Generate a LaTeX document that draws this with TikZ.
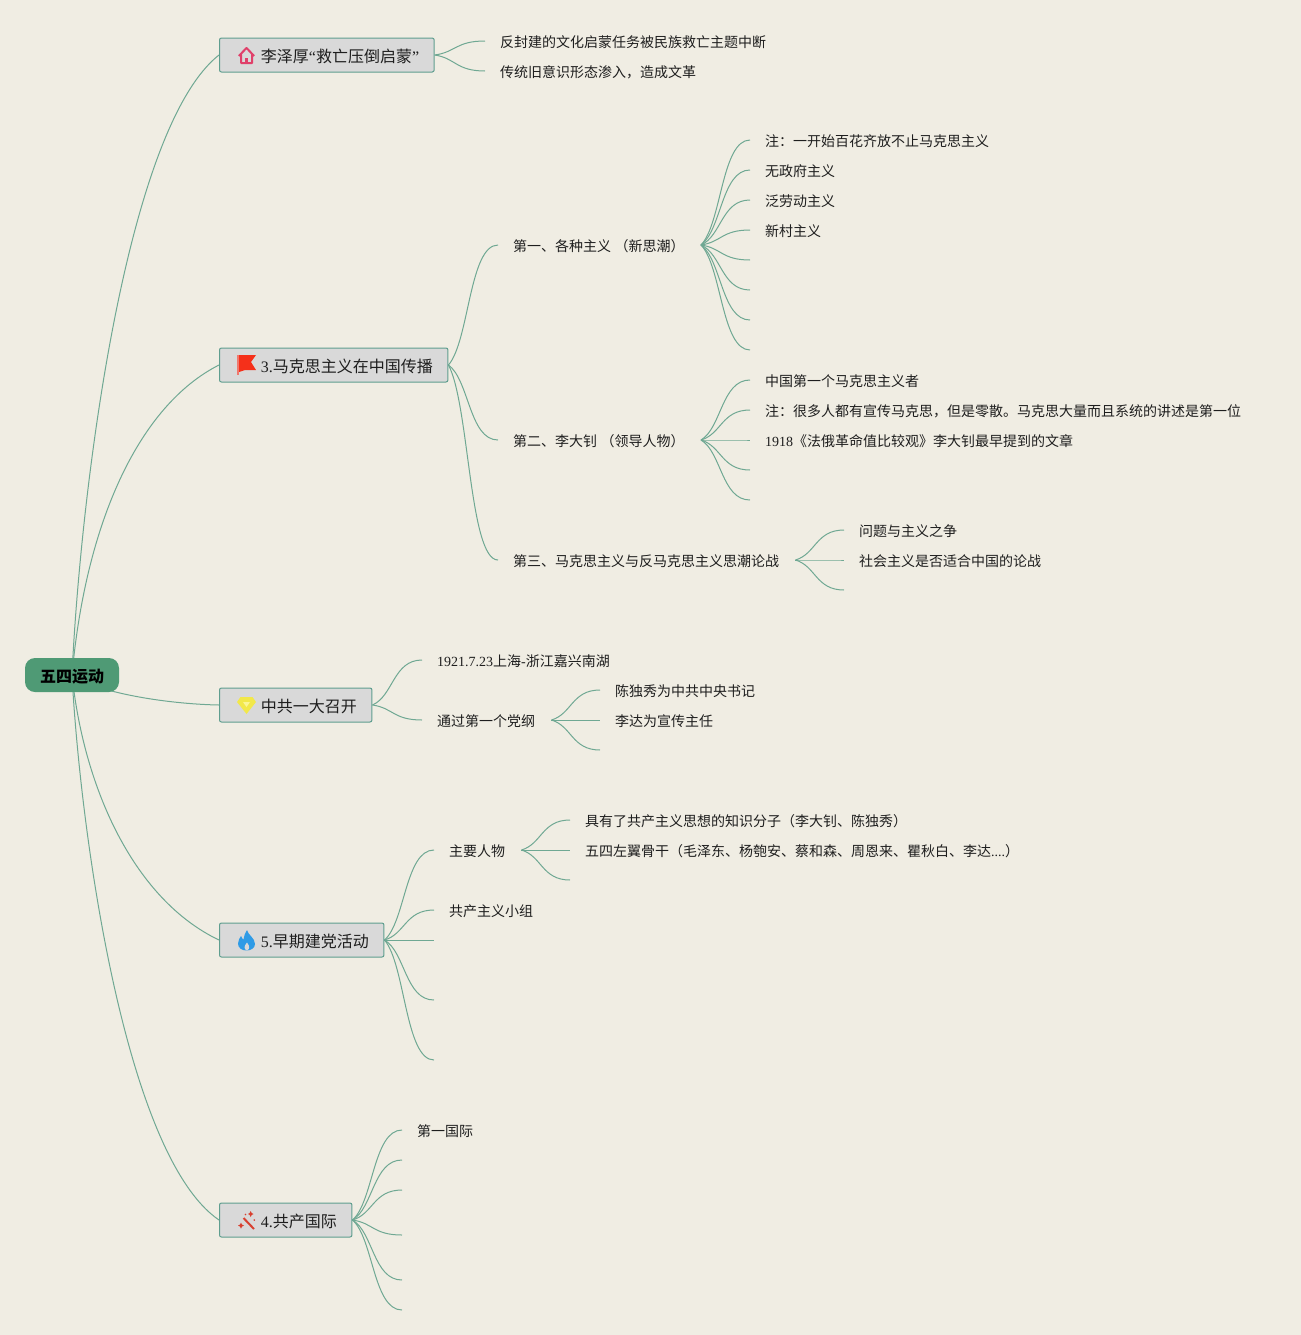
\documentclass[tikz,border=0pt]{standalone}
\usepackage{fontspec}
\setmainfont{Noto Sans CJK SC}
\newfontfamily\latnfont{Liberation Serif}
\newcommand\latn[1]{{\latnfont #1}}
\usetikzlibrary{calc}
\pgfdeclarelayer{bg}
\pgfdeclarelayer{edges}
\pgfsetlayers{bg,edges,main}
\definecolor{paper}{HTML}{F0EDE3}
\definecolor{linecol}{HTML}{6FA893}
\definecolor{rootfill}{HTML}{4F9A75}
\definecolor{boxfill}{HTML}{D9D9D9}
\definecolor{boxline}{HTML}{5F9E8F}
\definecolor{inkcol}{HTML}{1E1E1E}
\definecolor{iconpink}{RGB}{224,64,106}
\definecolor{iconred}{RGB}{245,48,26}
\definecolor{iconpole}{RGB}{240,120,110}
\definecolor{iconyellow}{RGB}{242,232,74}
\definecolor{iconpale}{RGB}{250,245,150}
\definecolor{iconblue}{RGB}{46,155,230}
\definecolor{iconwand}{RGB}{216,64,47}
\tikzset{
  edge/.style={draw=linecol,line width=0.75pt},
  rootbox/.style={fill=rootfill,rounded corners=7.5pt,anchor=center,minimum width=70.5pt,minimum height=25.5pt,inner sep=0pt,font=\fontsize{12pt}{14pt}\selectfont\bfseries,text=black,text height=12.4pt,text depth=0.6pt},
  topicbox/.style={draw=boxline,fill=boxfill,line width=0.75pt,rounded corners=1.5pt,anchor=west,minimum height=25.5pt,inner xsep=0pt,inner ysep=0pt,font=\fontsize{12pt}{14pt}\selectfont,text=inkcol,text height=11.3pt,text depth=0.8pt},
  leaf/.style={anchor=west,inner xsep=11.25pt,inner ysep=0pt,font=\fontsize{10.5pt}{12pt}\selectfont,text=inkcol,text height=9.4pt,text depth=0.4pt,execute at begin node={\hspace*{-0.1pt}},execute at end node={\hspace*{0.8pt}}},
}
\newcommand\topictext[1]{\hspace*{31.1pt}#1\hspace*{11.25pt}}
\newcommand\linkto[2]{\draw[edge] let \p1=(#1),\p2=(#2) in (\p1) .. controls ({\x1+0.42*(\x2-\x1)},{\y1+0.2*(\y2-\y1)}) and ({\x1+0.42*(\x2-\x1)},\y2) .. (\p2);}
\begin{document}
\begin{tikzpicture}[x=0.75pt,y=-0.75pt]
\useasboundingbox (0,0) rectangle (1301,1335);
\begin{pgfonlayer}{bg}
\fill[paper] (0,0) rectangle (1301,1335);
\end{pgfonlayer}

\node[rootbox] (root) at (72,675) {五四运动};

\node[topicbox] (t1) at (219,55) {\topictext{李泽厚\latn{“}救亡压倒启蒙\latn{”}}};
\node[topicbox] (t2) at (219,365) {\topictext{\latn{3.}马克思主义在中国传播}};
\node[topicbox] (t3) at (219,705) {\topictext{中共一大召开}};
\node[topicbox] (t4) at (219,940) {\topictext{\latn{5.}早期建党活动}};
\node[topicbox] (t5) at (219,1220) {\topictext{\latn{4.}共产国际}};

% topic 1
\node[leaf] (a1) at (485,41) {反封建的文化启蒙任务被民族救亡主题中断};
\node[leaf] (a2) at (485,71) {传统旧意识形态渗入，造成文革};

% topic 2
\node[leaf] (b1) at (498,245) {第一、各种主义\latn{ }（新思潮）};
\node[leaf] (b2) at (498,440) {第二、李大钊\latn{ }（领导人物）};
\node[leaf] (b3) at (498,560) {第三、马克思主义与反马克思主义思潮论战};

\node[leaf] (c1) at (750,140) {注：一开始百花齐放不止马克思主义};
\node[leaf] (c2) at (750,170) {无政府主义};
\node[leaf] (c3) at (750,200) {泛劳动主义};
\node[leaf] (c4) at (750,230) {新村主义};
\coordinate (c5) at (750,260);
\coordinate (c6) at (750,290);
\coordinate (c7) at (750,320);
\coordinate (c8) at (750,350);

\node[leaf] (d1) at (750,380) {中国第一个马克思主义者};
\node[leaf] (d2) at (750,410) {注：很多人都有宣传马克思，但是零散。马克思大量而且系统的讲述是第一位};
\node[leaf] (d3) at (750,440) {\latn{1918}《法俄革命值比较观》李大钊最早提到的文章};
\coordinate (d4) at (750,470);
\coordinate (d5) at (750,500);

\node[leaf] (e1) at (844,530) {问题与主义之争};
\node[leaf] (e2) at (844,560) {社会主义是否适合中国的论战};
\coordinate (e3) at (844,590);

% topic 3
\node[leaf] (f1) at (422,660) {\latn{1921.7.23}上海\latn{-}浙江嘉兴南湖};
\node[leaf] (f2) at (422,720) {通过第一个党纲};
\node[leaf] (g1) at (600,690) {陈独秀为中共中央书记};
\node[leaf] (g2) at (600,720) {李达为宣传主任};
\coordinate (g3) at (600,750);

% topic 5
\node[leaf] (h1) at (434,850) {主要人物};
\node[leaf] (h2) at (434,910) {共产主义小组};
\coordinate (h3) at (434,940);
\coordinate (h4) at (434,1000);
\coordinate (h5) at (434,1060);
\node[leaf] (i1) at (570,820) {具有了共产主义思想的知识分子（李大钊、陈独秀）};
\node[leaf] (i2) at (570,850) {五四左翼骨干（毛泽东、杨匏安、蔡和森、周恩来、瞿秋白、李达\latn{....}）};
\coordinate (i3) at (570,880);

% topic 4
\node[leaf] (j1) at (402,1130) {第一国际};
\coordinate (j2) at (402,1160);
\coordinate (j3) at (402,1190);
\coordinate (j4) at (402,1235);
\coordinate (j5) at (402,1280);
\coordinate (j6) at (402,1310);

\begin{pgfonlayer}{edges}
\draw[edge] (root.center) .. controls (80,500) and (124,130) .. (t1.west);
\draw[edge] (root.center) .. controls (86,520) and (140,405) .. (t2.west);
\draw[edge] (root.center) .. controls (95,692) and (165,704) .. (t3.west);
\draw[edge] (root.center) .. controls (84,790) and (135,900) .. (t4.west);
\draw[edge] (root.center) .. controls (80,828) and (124,1155) .. (t5.west);
\foreach \nd in {a1,a2} {\linkto{t1.east}{\nd.west}}
\foreach \nd in {b1,b2,b3} {\linkto{t2.east}{\nd.west}}
\foreach \nd in {c1,c2,c3,c4} {\linkto{b1.east}{\nd.west}}
\foreach \nd in {c5,c6,c7,c8} {\linkto{b1.east}{\nd}}
\foreach \nd in {d1,d2,d3} {\linkto{b2.east}{\nd.west}}
\foreach \nd in {d4,d5} {\linkto{b2.east}{\nd}}
\foreach \nd in {e1,e2} {\linkto{b3.east}{\nd.west}}
\linkto{b3.east}{e3}
\foreach \nd in {f1,f2} {\linkto{t3.east}{\nd.west}}
\foreach \nd in {g1,g2} {\linkto{f2.east}{\nd.west}}
\linkto{f2.east}{g3}
\foreach \nd in {h1,h2} {\linkto{t4.east}{\nd.west}}
\foreach \nd in {h3,h4,h5} {\linkto{t4.east}{\nd}}
\foreach \nd in {i1,i2} {\linkto{h1.east}{\nd.west}}
\linkto{h1.east}{i3}
\linkto{t5.east}{j1.west}
\foreach \nd in {j2,j3,j4,j5,j6} {\linkto{t5.east}{\nd}}
\end{pgfonlayer}

% icons
\draw[iconpink,line width=1.5pt,line join=round]
  (238.8,56) -- (246.5,48) -- (254.2,56) (241,54.5) -- (241,63) -- (252,63) -- (252,54.5);
\fill[iconpink] (244.7,58) rectangle (248.3,63);

\fill[iconred] (237.5,355) -- (256,355) -- (251,362) -- (256,370) -- (245,370) -- (239,372) -- cycle;
\fill[iconpole] (237,355) rectangle (238.5,375);

\fill[iconyellow] (240.5,697) -- (252.5,697) -- (256,702) -- (246.5,714) -- (237,702) -- cycle;
\fill[iconpale] (243,702) -- (250,702) -- (246.5,707) -- cycle;

\fill[iconblue] (247,930) .. controls (248,935) and (255,938) .. (255,944) .. controls (255,948) and (251,950.5) .. (246.5,950.5) .. controls (242,950.5) and (238,948) .. (238,943.5) .. controls (238,940) and (240,938) .. (241,936) .. controls (242,938) and (242.5,939) .. (243.5,939.5) .. controls (244,936) and (245,933) .. (247,930) -- cycle;
\fill[boxfill] (246.8,950.5) .. controls (244,949) and (243.5,946.5) .. (247,942.5) .. controls (250,946.5) and (250,949) .. (246.8,950.5) -- cycle;

\draw[iconwand,line width=1.5pt] (243.5,1218) -- (254,1229);
\fill[iconwand] (241,1222.5) -- (242,1224.5) -- (244,1225.5) -- (242,1226.5) -- (241,1228.5) -- (240,1226.5) -- (238,1225.5) -- (240,1224.5) -- cycle;
\fill[iconwand] (250.7,1211) -- (251.7,1213) -- (253.5,1214) -- (251.7,1215) -- (250.7,1217) -- (249.7,1215) -- (248,1214) -- (249.7,1213) -- cycle;
\fill[iconwand] (254.3,1220) circle (0.7pt);
\fill[iconwand] (245.5,1214.5) circle (0.6pt);
\end{tikzpicture}
\end{document}
